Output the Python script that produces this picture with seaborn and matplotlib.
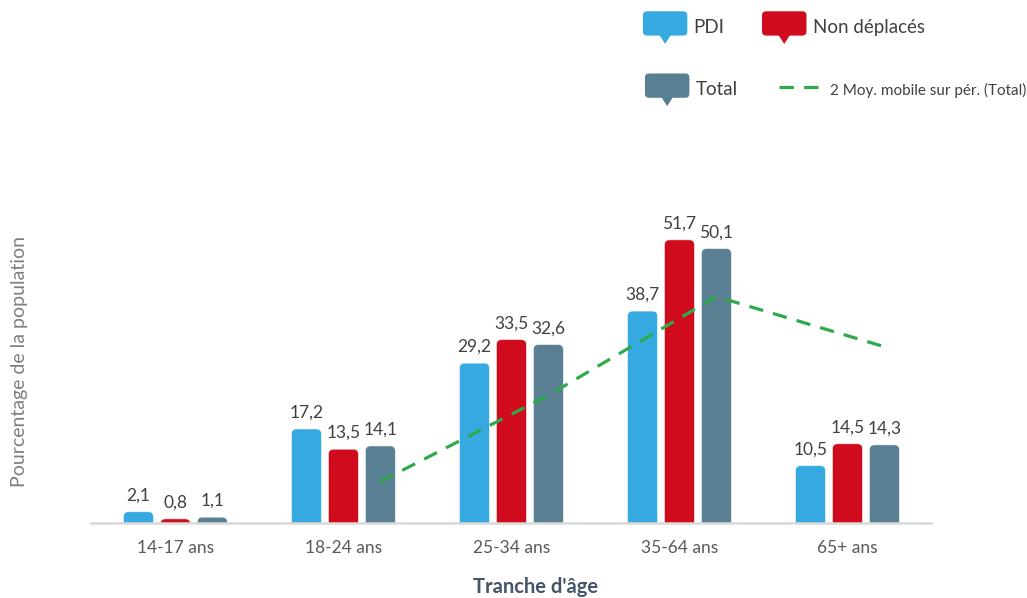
import numpy as np
import pandas as pd
import matplotlib
matplotlib.use("Agg")
import matplotlib.pyplot as plt
import seaborn as sns
from matplotlib.patches import FancyBboxPatch, Polygon, Patch
from matplotlib.lines import Line2D
from matplotlib.legend_handler import HandlerBase

# Data
categories = ["14-17 ans", "18-24 ans", "25-34 ans", "35-64 ans", "65+ ans"]
pdi = [2.1, 17.2, 29.2, 38.7, 10.5]
non_deplaces = [0.8, 13.5, 33.5, 51.7, 14.5]
total = [1.1, 14.1, 32.6, 50.1, 14.3]
series_names = ["PDI", "Non déplacés", "Total"]
colors = ["#37A9E1", "#D00B1E", "#597F93"]
green = "#2EAA4A"
ma_label = "2 Moy. mobile sur pér. (Total)"

sns.set_theme(style="white")
plt.rcParams["font.family"] = ["Lato", "DejaVu Sans"]

df = pd.DataFrame({
    "Tranche": categories * 3,
    "Serie": [s for s in series_names for _ in categories],
    "Valeur": pdi + non_deplaces + total,
})

fig = plt.figure(figsize=(10.27, 5.98), dpi=100)
ax = fig.add_axes([0.089, 0.125, 0.818, 0.55])

group_width = 0.66
sns.barplot(data=df, x="Tranche", y="Valeur", hue="Serie", order=categories,
            hue_order=series_names, palette=colors, width=group_width, gap=0.19,
            ax=ax, legend=False, saturation=1)

ax.set_xlim(-0.5, 4.5)
ax.set_ylim(0, 60)

# value labels
for cont in ax.containers:
    vals = [b.get_height() for b in cont]
    ax.bar_label(cont, labels=[f"{v:.1f}".replace(".", ",") for v in vals],
                 padding=6, fontsize=12.5, color="#404040")

# replace bars with rounded-top versions
fig.canvas.draw()
bbox = ax.get_window_extent()
x_per_px = (ax.get_xlim()[1] - ax.get_xlim()[0]) / bbox.width
y_per_px = (ax.get_ylim()[1] - ax.get_ylim()[0]) / bbox.height
aspect = y_per_px / x_per_px
r_px = 5
for p in list(ax.patches):
    x, w, h = p.get_x(), p.get_width(), p.get_height()
    fc = p.get_facecolor()
    p.remove()
    ext = r_px * y_per_px
    fb = FancyBboxPatch((x, -ext), w, h + ext,
                        boxstyle=f"round,pad=0,rounding_size={r_px * x_per_px}",
                        mutation_aspect=aspect, fc=fc, ec=(1, 1, 1, 0.6), lw=0.6,
                        zorder=2)
    ax.add_patch(fb)

# 2-period moving average of Total, drawn at the Total bar position
offset = group_width / 3
ma = pd.Series(total).rolling(2).mean()
xs = np.arange(len(categories))[1:] + offset
ax.plot(xs, ma.values[1:], color=green, lw=2.3, ls=(0, (4.5, 3.2)), zorder=3)

# axes styling
for s in ["top", "right", "left"]:
    ax.spines[s].set_visible(False)
ax.spines["bottom"].set_color("#D9D9D9")
ax.spines["bottom"].set_linewidth(1.8)
ax.set_yticks([])
ax.tick_params(axis="x", length=0, pad=12, labelsize=12.5, labelcolor="#595959")
ax.set_xlabel("")
ax.set_ylabel("")
fig.text(0.521, 0.009, "Tranche d'âge", ha="center", va="baseline",
         fontsize=14.5, fontweight="bold", color="#44546A")
fig.text(0.019, 0.395, "Pourcentage de la population", rotation=90, ha="center",
         va="center", fontsize=14, color="#7F7F7F")


class CalloutHandler(HandlerBase):
    def create_artists(self, legend, orig_handle, xdescent, ydescent, width,
                       height, fontsize, trans):
        bw, bh = 32, 17.5
        x0 = -xdescent
        y0 = -ydescent + height / 2 - bh / 2 + 2.5
        box = FancyBboxPatch((x0, y0), bw, bh, boxstyle="round,pad=0,rounding_size=3",
                             fc=orig_handle.get_facecolor(), ec="none", transform=trans)
        cx = x0 + bw / 2
        tri = Polygon([[cx - 4.5, y0 + 1], [cx + 4.5, y0 + 1], [cx, y0 - 6]],
                      closed=True, fc=orig_handle.get_facecolor(), ec="none",
                      transform=trans)
        return [box, tri]


class DashHandler(HandlerBase):
    def create_artists(self, legend, orig_handle, xdescent, ydescent, width,
                       height, fontsize, trans):
        y = -ydescent + height / 2 + 1.5
        ln = Line2D([-xdescent, -xdescent + width], [y, y], color=green,
                    lw=2.3, ls=(0, (4.5, 3.2)), transform=trans)
        return [ln]


hmap = {Patch: CalloutHandler(), Line2D: DashHandler()}
common = dict(ncol=2, loc="center left", frameon=False, fontsize=13.5,
              borderpad=0, borderaxespad=0, handlelength=2.4, handleheight=1.2,
              handletextpad=0.3, handler_map=hmap)

leg1 = fig.legend([Patch(fc=colors[0]), Patch(fc=colors[1])],
                  series_names[:2], bbox_to_anchor=(0.626, 0.955),
                  columnspacing=2.0, **common)
leg2 = fig.legend([Patch(fc=colors[2]), Line2D([], [], color=green)],
                  [series_names[2], ma_label], bbox_to_anchor=(0.628, 0.851),
                  columnspacing=2.2, **common)
for leg in (leg1, leg2):
    for t in leg.get_texts():
        t.set_color("#404040")
leg2.get_texts()[1].set_fontsize(11)

fig.savefig("out.png", dpi=100)
